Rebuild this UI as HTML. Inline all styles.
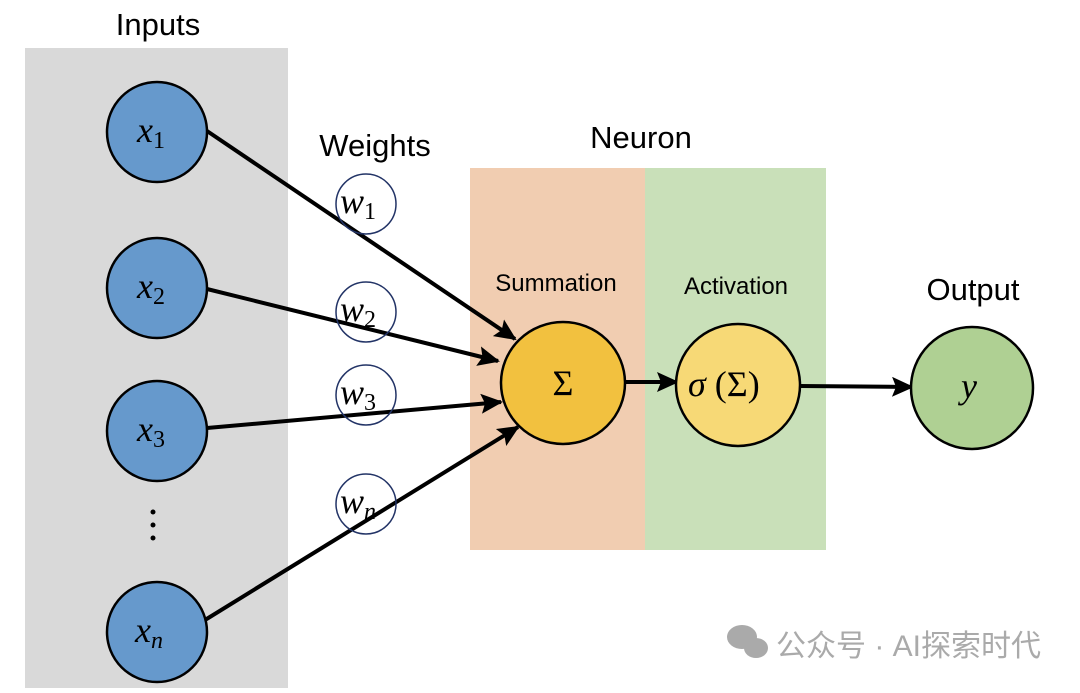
<!DOCTYPE html>
<html><head><meta charset="utf-8"><style>
body{margin:0;width:1080px;height:688px;background:#fff;overflow:hidden}
svg text{font-family:"Liberation Sans",sans-serif}
svg .m text, svg text.m{font-family:"Liberation Serif","DejaVu Serif",serif;font-style:italic}
</style></head><body>
<svg width="1080" height="688" viewBox="0 0 1080 688">
<defs><marker id="a" viewBox="0 0 22 20" refX="20" refY="10" markerWidth="22" markerHeight="20" orient="auto" markerUnits="userSpaceOnUse"><path d="M0,0 L22,10 L0,20 L4,10 Z" fill="#000"/></marker></defs>
<rect x="25" y="48" width="263" height="640" fill="#d9d9d9"/>
<rect x="470" y="168" width="175" height="382" fill="#f1cdb1"/>
<rect x="645" y="168" width="181" height="382" fill="#c9e0b9"/>
<text x="158" y="35" font-size="31" text-anchor="middle">Inputs</text>
<text x="375" y="156" font-size="31" text-anchor="middle">Weights</text>
<text x="641" y="148" font-size="31" text-anchor="middle">Neuron</text>
<text x="556" y="291" font-size="24" text-anchor="middle">Summation</text>
<text x="736" y="294" font-size="24" text-anchor="middle">Activation</text>
<text x="973" y="300" font-size="31" text-anchor="middle">Output</text>
<g stroke="#000" stroke-width="4" fill="none">
<line x1="207" y1="131" x2="515" y2="339" marker-end="url(#a)"/>
<line x1="207" y1="289" x2="498" y2="361" marker-end="url(#a)"/>
<line x1="207" y1="428" x2="501" y2="402" marker-end="url(#a)"/>
<line x1="205" y1="620" x2="518" y2="427" marker-end="url(#a)"/>
<line x1="625" y1="382" x2="677" y2="382" marker-end="url(#a)"/>
<line x1="800" y1="386" x2="912" y2="387" marker-end="url(#a)"/>
</g>
<g stroke="#000" stroke-width="2.5" fill="#6699cc">
<circle cx="157" cy="132" r="50"/><circle cx="157" cy="288" r="50"/>
<circle cx="157" cy="431" r="50"/><circle cx="157" cy="632" r="50"/>
</g>
<g fill="#000"><circle cx="153" cy="512" r="2.5"/><circle cx="153" cy="525" r="2.5"/><circle cx="153" cy="538" r="2.5"/></g>
<g stroke="#223366" stroke-width="1.5" fill="none">
<circle cx="366" cy="204" r="30"/><circle cx="366" cy="312" r="30"/>
<circle cx="366" cy="395" r="30"/><circle cx="366" cy="504" r="30"/>
</g>
<ellipse cx="563" cy="383" rx="62" ry="61" fill="#f2c13f" stroke="#000" stroke-width="2.5"/>
<ellipse cx="738" cy="385" rx="62" ry="61" fill="#f7d976" stroke="#000" stroke-width="2.5"/>
<ellipse cx="972" cy="388" rx="61" ry="61" fill="#afd093" stroke="#000" stroke-width="2.5"/>
<g class="m" font-size="36">
<text x="137" y="142">x<tspan font-size="24" font-style="normal" dy="6">1</tspan></text>
<text x="137" y="298">x<tspan font-size="24" font-style="normal" dy="6">2</tspan></text>
<text x="137" y="441">x<tspan font-size="24" font-style="normal" dy="6">3</tspan></text>
<text x="135" y="642">x<tspan font-size="24" dy="6">n</tspan></text>
<text x="340" y="213">w<tspan font-size="24" font-style="normal" dy="6">1</tspan></text>
<text x="340" y="321">w<tspan font-size="24" font-style="normal" dy="6">2</tspan></text>
<text x="340" y="404">w<tspan font-size="24" font-style="normal" dy="6">3</tspan></text>
<text x="340" y="513">w<tspan font-size="24" dy="6">n</tspan></text>
<text x="961" y="398">y</text>
<text x="688" y="396">σ<tspan font-style="normal"> (Σ)</tspan></text>
</g>
<text x="563" y="395" font-size="36" text-anchor="middle" class="m" style="font-style:normal">Σ</text>
<g fill="#aaa"><ellipse cx="742" cy="637" rx="15" ry="12"/><ellipse cx="756" cy="648" rx="12" ry="10"/></g>
<text x="776" y="656" font-size="30" fill="#aaa" font-family="Liberation Sans,'Noto Sans CJK SC',sans-serif">公众号 · AI探索时代</text>
</svg>
</body></html>
